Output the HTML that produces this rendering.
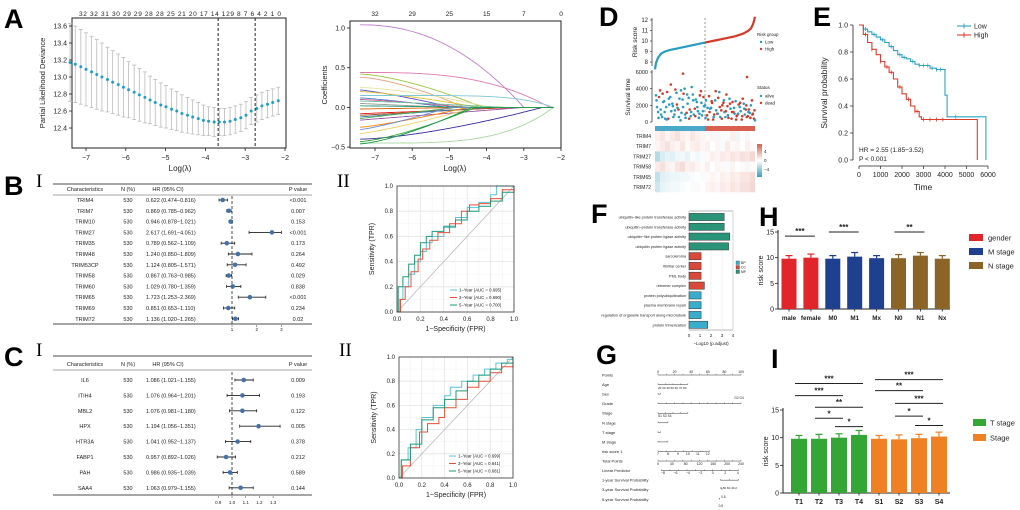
<!DOCTYPE html>
<html><head><meta charset="utf-8">
<style>
html,body{margin:0;padding:0;background:#fff;}
svg{display:block;font-family:"Liberation Sans",Arial,sans-serif;}
.lt{font-family:"Liberation Sans",sans-serif;font-weight:bold;font-size:27px;}
.rm{font-family:"Liberation Serif",serif;font-size:19px;}
</style></head>
<body>
<svg id="fig" width="1020" height="510" viewBox="0 0 1020 510" xmlns="http://www.w3.org/2000/svg">
<rect x="0" y="0" width="1020" height="510" fill="#fff"/>
<text class="lt" x="4" y="28">A</text>
<text class="lt" x="4" y="195">B</text>
<text class="lt" x="4" y="366">C</text>
<text class="lt" x="599" y="26">D</text>
<text class="lt" x="813" y="26">E</text>
<text class="lt" x="591" y="223">F</text>
<text class="lt" x="596" y="364">G</text>
<text class="lt" x="759" y="226">H</text>
<text class="lt" x="771" y="368">I</text>
<text class="rm" x="36" y="187">I</text>
<text class="rm" x="337" y="187">II</text>
<text class="rm" x="36" y="356">I</text>
<text class="rm" x="339" y="356">II</text>
</svg>
<script>
// ---------- DATA ----------
const cvLambda=[-7.40,-7.27,-7.13,-7.00,-6.86,-6.73,-6.60,-6.46,-6.33,-6.19,-6.06,-5.93,-5.79,-5.66,-5.52,-5.39,-5.26,-5.12,-4.99,-4.85,-4.72,-4.59,-4.45,-4.32,-4.18,-4.05,-3.92,-3.78,-3.65,-3.52,-3.38,-3.25,-3.11,-2.98,-2.85,-2.71,-2.58,-2.44,-2.31,-2.17];
const cvMean=[13.17,13.15,13.12,13.09,13.06,13.03,13.00,12.97,12.94,12.91,12.88,12.85,12.82,12.79,12.76,12.73,12.70,12.67,12.65,12.62,12.60,12.57,12.55,12.53,12.51,12.49,12.48,12.47,12.47,12.47,12.48,12.50,12.52,12.55,12.60,12.63,12.66,12.68,12.70,12.72];
const cvSd=[0.46,0.45,0.44,0.43,0.42,0.41,0.40,0.38,0.37,0.36,0.35,0.33,0.32,0.31,0.30,0.28,0.27,0.26,0.25,0.24,0.23,0.22,0.21,0.20,0.19,0.18,0.17,0.17,0.16,0.16,0.16,0.16,0.16,0.16,0.16,0.16,0.16,0.16,0.16,0.16];
const cvLines=[-3.68,-2.75];
const cvTopLabels="32 32 31 30 29 29 28 28 25 21 20 17 14 129 8 7 6 4 2 1 0";
const coefStart=[1.04,0.44,0.42,0.38,0.25,0.22,0.20,0.15,0.12,0.10,0.08,0.05,0.02,-0.02,-0.08,-0.10,-0.12,-0.14,-0.16,-0.25,-0.28,-0.33,-0.40,-0.43,-0.45,-0.46];
const coefZero=[-3.0,-2.3,-4.1,-4.6,-3.9,-4.9,-4.2,-2.2,-5.0,-4.5,-3.5,-5.0,-4.0,-4.5,-3.2,-3.5,-4.0,-4.8,-3.0,-4.5,-5.0,-4.3,-2.5,-4.3,-2.2,-4.4];
const coefShape=[2.2,3,1.5,1.5,1.5,1.2,1.3,6,1.2,1.2,1.2,1,1,1,1,1,1,1,1,1.2,1.2,1.2,1.5,1.4,4,1.4];
const coefColor=['#c27bcc','#e07bb0','#9bc53d','#e8a07a','#e8e0a0','#5a4fcf','#e2c32a','#7fc8d8','#4a7fd0','#d65a8a','#66c2a5','#999999','#1b9e77','#d95f02','#e41a1c','#a65628','#377eb8','#4daf4a','#984ea3','#ff7f00','#6a8fd0','#f0d060','#3b2a9a','#2ca02c','#a8d8a0','#1a9850'];
const coefTop=[['32',-7],['29',-6],['25',-5],['15',-4],['7',-3],['0',-2]];

const fbNames=['TRIM4','TRIM7','TRIM10','TRIM27','TRIM35','TRIM48','TRIM53CP','TRIM58','TRIM60','TRIM65','TRIM69','TRIM72'];
const fbHR=[0.622,0.869,0.946,2.617,0.789,1.240,1.124,0.867,1.029,1.723,0.851,1.136];
const fbLo=[0.474,0.785,0.878,1.691,0.562,0.850,0.805,0.763,0.780,1.253,0.653,1.020];
const fbHi=[0.816,0.962,1.021,4.051,1.109,1.809,1.571,0.985,1.359,2.369,1.110,1.265];
const fbP=['<0.001','0.007','0.153','<0.001','0.173','0.264','0.492','0.029','0.838','<0.001','0.234','0.02'];
const fbTicks=[1,2,3];
const fcNames=['IL6','ITIH4','MBL2','HPX','HTR3A','FABP1','PAH','SAA4'];
const fcHR=[1.086,1.076,1.076,1.194,1.041,0.957,0.986,1.063];
const fcLo=[1.021,0.964,0.981,1.056,0.952,0.892,0.935,0.979];
const fcHi=[1.155,1.201,1.180,1.351,1.137,1.026,1.039,1.155];
const fcP=['0.009','0.193','0.122','0.005','0.378','0.212','0.589','0.144'];
const fcTicks=[0.9,1.0,1.1,1.2,1.3];

const rocB1x=[0,0.02,0.05,0.1,0.15,0.2,0.25,0.3,0.4,0.5,0.6,0.7,0.8,0.85,1], rocB1y=[0,0.1,0.2,0.3,0.4,0.48,0.55,0.6,0.67,0.75,0.83,0.87,0.93,1,1];
const rocB3x=[0,0.03,0.07,0.12,0.18,0.22,0.28,0.35,0.45,0.55,0.62,0.7,0.8,0.9,1], rocB3y=[0,0.1,0.2,0.32,0.42,0.5,0.57,0.63,0.7,0.8,0.85,0.86,0.9,0.97,1];
const rocB5x=[0,0.01,0.05,0.1,0.15,0.2,0.25,0.3,0.4,0.5,0.6,0.7,0.8,0.9,1], rocB5y=[0,0.2,0.28,0.38,0.45,0.55,0.6,0.64,0.68,0.73,0.8,0.84,0.88,0.95,1];
const rocC1x=[0,0.02,0.08,0.15,0.2,0.3,0.4,0.45,0.55,0.65,0.75,0.85,0.95,1], rocC1y=[0,0.15,0.25,0.4,0.5,0.6,0.68,0.75,0.8,0.85,0.9,0.95,0.98,1];
const rocC3x=[0,0.03,0.1,0.18,0.25,0.35,0.4,0.5,0.6,0.7,0.8,0.9,1], rocC3y=[0,0.1,0.25,0.38,0.45,0.5,0.58,0.65,0.75,0.8,0.87,0.92,1];
const rocC5x=[0,0.02,0.1,0.2,0.3,0.4,0.5,0.6,0.7,0.8,0.9,1], rocC5y=[0,0.15,0.28,0.48,0.58,0.65,0.72,0.8,0.85,0.9,0.95,1];
const rocBLegend=['1−Year (AUC = 0.695)','3−Year (AUC = 0.690)','5−Year (AUC = 0.700)'];
const rocCLegend=['1−Year (AUC = 0.699)','3−Year (AUC = 0.641)','5−Year (AUC = 0.681)'];
const rocTicks=[0,0.2,0.4,0.6,0.8,1.0];

const riskRank=[0,0.01,0.03,0.06,0.1,0.15,0.2,0.3,0.4,0.5,0.6,0.7,0.8,0.88,0.93,0.96,0.98,0.99,1];
const riskVal=[7.3,7.9,8.4,8.8,9.0,9.15,9.25,9.45,9.65,9.85,10.05,10.25,10.45,10.7,10.95,11.2,11.6,11.9,12.3];
const riskTicks=[8,9,10,11,12];
const survTime1=[3200,1200,3800,600,2500,1800,400,3000,2200,900,3500,1500,200,2700,4000,1100,2900,700,3300,1600,2400,500,3700,1300,2000,800,3100,1700,300,2600,1000,3600,1400,2300,600,1900,2800,400,1200,2500,900,1800,300,2200,1500,700,1100,2600,400];
const survTime2=[1800,3000,900,2400,400,3600,2100,1300,600,3900,1700,2800,1100,3400,500,2200,1500,4200,900,2700,1300,3200,800,1900,2600,300,1600,2300,900,1400,2900,600,2000,1200,3300,500,1600,2400,1000,700,2100,1300,2800,900,600,1500,2000,1000,200];
const survTime3=[2600,500,1500,3400,1200,300,2800,4500,1900,1400,2100,600,3800,1800,900,3300,400,1200,2600,700,1800,1000,2300,3000,500,1700,1200,2500,600,3700,1000,1800,400,2600,1300,800,2200,1200,1700,300,1000,2300,700,1600,2000,1200,500,900,1400];
const survDead1="0010001000010001000100100110101011010110101011011";
const survDead2="0100010001000100100001000101101010110101101011010";
const survDead3="0001000100100000100100010011010110101101011010111";
const survOutRank=[0.28,0.92], survOutTime=[5800,5400];
const survTicks=[0,2000,4000,6000];
const heatGenes=['TRIM4','TRIM7','TRIM27','TRIM58','TRIM65','TRIM72'];
const heatVals=[
[0.3,0.5,0.2,0.4,0.6,0.3,0.2,0.5,0.3,0.2,-0.1,0.2,-0.2,0.1,-0.1,0.3,-0.3,0.1,-0.2,0.0],
[0.2,0.4,0.6,0.3,0.2,0.5,0.1,0.3,0.4,0.2,0.3,0.0,0.2,-0.1,0.4,0.1,0.2,0.0,0.3,0.1],
[-1.2,-0.6,-0.4,-0.5,-0.3,-0.2,-0.4,-0.1,-0.2,-0.1,0.1,0.3,0.2,0.4,0.3,0.5,0.4,0.6,0.5,0.8],
[0.4,0.6,0.3,0.2,0.5,0.7,0.3,0.4,0.2,0.1,0.3,0.0,0.2,0.1,-0.1,0.2,0.0,0.1,-0.2,0.1],
[-1.0,-0.5,-0.4,-0.3,-0.3,-0.2,-0.2,-0.1,0.0,-0.1,0.1,0.2,0.1,0.3,0.2,0.4,0.3,0.5,0.5,0.7],
[-0.8,-0.4,-0.3,-0.2,-0.2,-0.1,0.0,-0.1,0.1,0.0,0.2,0.3,0.2,0.4,0.3,0.5,0.4,0.6,0.6,0.8]];

const kmLowT=[0,200,400,600,800,1000,1200,1400,1600,1800,2000,2200,2400,2600,2800,3000,3300,3600,4000,4100,5900];
const kmLowS=[1,0.97,0.95,0.93,0.91,0.89,0.87,0.84,0.81,0.78,0.76,0.75,0.73,0.71,0.70,0.70,0.68,0.67,0.48,0.32,0];
const kmHighT=[0,200,400,600,800,1000,1200,1400,1600,1800,2000,2200,2400,2600,2800,2900,5500];
const kmHighS=[1,0.93,0.87,0.82,0.78,0.73,0.69,0.65,0.60,0.54,0.49,0.45,0.40,0.36,0.32,0.30,0];
const kmLowCens=[300,700,1100,1500,1900,2100,2500,2800,3000,3200,3400,3600,3800,4500];
const kmHighCens=[300,600,1000,1300,1500,1900,2300,2600,2700,3000,3300,3600,3900];
const kmXTicks=[0,1000,2000,3000,4000,5000,6000];
const kmYTicks=[0,0.2,0.4,0.6,0.8,1.0];

const goTerms=['ubiquitin−like protein transferase activity','ubiquitin−protein transferase activity','ubiquitin−like protein ligase activity','ubiquitin protein ligase activity','sarcolemma','fibrillar center','PML body','retromer complex','protein polyubiquitination','plasma membrane repair','regulation of organelle transport along microtubule','protein trimerization'];
const goVals=[3.2,3.2,3.7,3.6,1.1,1.1,1.1,1.4,1.1,1.1,1.1,1.7];
const goCat=['MF','MF','MF','MF','CC','CC','CC','CC','BP','BP','BP','BP'];
const goTicks=[0,1,2,3,4];

const hCats=['male','female','M0','M1','Mx','N0','N1','Nx'];
const hVals=[9.8,10.0,9.8,10.2,9.9,9.9,10.4,9.8];
const hErr=[0.6,0.7,0.6,0.8,0.5,0.7,0.6,0.6];
const hGroup=[0,0,1,1,1,2,2,2];
const hSig=[[0,1,14.2,'***'],[2,3,15.0,'***'],[5,6,15.0,'**']];
const iCats=['T1','T2','T3','T4','S1','S2','S3','S4'];
const iVals=[9.8,9.8,10.0,10.5,9.8,9.7,9.9,10.2];
const iErr=[0.6,0.8,0.7,0.8,0.6,0.8,0.7,0.8];
const iGroup=[0,0,0,0,1,1,1,1];
const iSig=[[0,3,19.8,'***'],[0,2,17.6,'***'],[1,3,15.5,'**'],[1,2,13.5,'*'],[2,3,12.0,'*'],[4,7,20.5,'***'],[4,6,18.5,'**'],[5,7,16.2,'***'],[5,6,13.9,'*'],[6,7,12.2,'*']];
const barTicks=[0,5,10,15];

const nomoLabels=['Points','Age','Sex','Grade','Stage','N stage','T stage','M stage','risk score 1','Total Points','Linear Predictor','1-year Survival Probability','3-year Survival Probability','5-year Survival Probability'];
const nomoStart=[0,0,0,0,0,0,0,0,0,0,4,75,77,74];
const nomoEnd=[100,36,3,100,36,12,3,12,62,100,97,97,77,74];

// ---------- HELPERS ----------
const NS='http://www.w3.org/2000/svg';
const svg=document.getElementById('fig');
function el(tag,a,p){const e=document.createElementNS(NS,tag);for(const k in a)e.setAttribute(k,a[k]);(p||svg).appendChild(e);return e;}
function grp(name){const g=el('g',{});


return g;}
function txt(p,x,y,s,size,name,extra){const t=el('text',Object.assign({x:x,y:y,'font-size':size,fill:'#222'},extra||{}),p);t.textContent=s;


return t;}
function ln(p,x1,y1,x2,y2,stroke,w,name,dash){const l=el('line',{x1:x1,y1:y1,x2:x2,y2:y2,stroke:stroke,'stroke-width':w},p);if(dash)l.setAttribute('stroke-dasharray',dash);


return l;}
function rot(p,x,y,s,size,name){return txt(p,x,y,s,size,name,{transform:`rotate(-90 ${x} ${y})`,'text-anchor':'middle'});}

// ---------- PANEL A LEFT ----------
(function(){
const g=grp('cv-deviance-plot');
const xA=l=>86+(l+7)*39.8, yA=v=>26+(13.6-v)/0.2*17;
el('rect',{x:72,y:18,width:214,height:130,fill:'none',stroke:'#222','stroke-width':1},g);
for(let i=0;i<cvLambda.length;i++){
 const x=xA(cvLambda[i]);
 ln(g,x,yA(cvMean[i]+cvSd[i]),x,yA(cvMean[i]-cvSd[i]),'#bbb',0.8,'error-bar');
 ln(g,x-2,yA(cvMean[i]+cvSd[i]),x+2,yA(cvMean[i]+cvSd[i]),'#bbb',0.8,'error-cap');
 ln(g,x-2,yA(cvMean[i]-cvSd[i]),x+2,yA(cvMean[i]-cvSd[i]),'#bbb',0.8,'error-cap');
}
for(let i=0;i<cvLambda.length;i++){
 const c=el('circle',{cx:xA(cvLambda[i]),cy:yA(cvMean[i]),r:1.5,fill:'#1b9fc9'},g);
 
 
}
cvLines.forEach(l=>ln(g,xA(l),18,xA(l),148,'#222',1,'lambda-cutoff-line','3,2'));
for(let t=-7;t<=-2;t++){ln(g,xA(t),148,xA(t),151,'#222',0.8,'x-tick');txt(g,xA(t),160,String(t).replace('-','−'),7,'x-tick-label',{'text-anchor':'middle'});}
[12.4,12.6,12.8,13.0,13.2,13.4,13.6].forEach(v=>{ln(g,69,yA(v),72,yA(v),'#222',0.8,'y-tick');txt(g,67,yA(v)+2.5,v.toFixed(1),7,'y-tick-label',{'text-anchor':'end'});});
txt(g,180,171,'Log(λ)',8,'x-axis-title',{'text-anchor':'middle'});
rot(g,45,83,'Partial Likelihood Deviance',7.5,'y-axis-title');
txt(g,79,16,cvTopLabels,6.5,'top-count-labels',{textLength:202,lengthAdjust:'spacing'});
})();

// ---------- PANEL A RIGHT ----------
(function(){
const g=grp('coefficient-path-plot');
const xR=l=>375+(l+7)*37.2, yR=v=>28+(1-v)/0.5*39.7;
el('rect',{x:350,y:21,width:211,height:127,fill:'none',stroke:'#222','stroke-width':1},g);
for(let k=0;k<coefStart.length;k++){
 let d='';
 for(let l=-7.4;l<=-2.19;l+=0.05){
  let f=l>=coefZero[k]?0:1-Math.pow((l+7.4)/(coefZero[k]+7.4),coefShape[k]);
  d+=(d?'L':'M')+xR(l).toFixed(1)+','+yR(coefStart[k]*f).toFixed(1);
 }
 const p=el('path',{d:d,fill:'none',stroke:coefColor[k],'stroke-width':0.9},g);
 
 
}
for(let t=-7;t<=-2;t++){ln(g,xR(t),148,xR(t),151,'#222',0.8,'x-tick');txt(g,xR(t),160,String(t).replace('-','−'),7,'x-tick-label',{'text-anchor':'middle'});}
[-0.5,0,0.5,1.0].forEach(v=>{ln(g,347,yR(v),350,yR(v),'#222',0.8,'y-tick');txt(g,345,yR(v)+2.5,v.toFixed(1).replace('-','−'),7,'y-tick-label',{'text-anchor':'end'});});
coefTop.forEach(c=>txt(g,xR(c[1]),16,c[0],6.5,'top-count-label',{'text-anchor':'middle'}));
txt(g,455,171,'Log(λ)',8,'x-axis-title',{'text-anchor':'middle'});
rot(g,327,85,'Coefficients',7.5,'y-axis-title');
})();

// ---------- FORESTS ----------
function forest(name,top,hdrY,rowY0,rowDy,bot,names,hr,lo,hi,pv,xf,ticks,xmax,tickY,dashTop){
 const g=grp(name);
 ln(g,53,top,312,top,'#888',1.6,'table-top-rule');
 ln(g,53,hdrY+5,312,hdrY+5,'#888',0.8,'table-header-rule');
 ln(g,53,bot,312,bot,'#888',1.6,'table-bottom-rule');
 txt(g,85,hdrY+1,'Characteristics',5.5,'header-characteristics',{'text-anchor':'middle'});
 txt(g,128,hdrY+1,'N (%)',5.5,'header-n',{'text-anchor':'middle'});
 txt(g,168,hdrY+1,'HR (95% CI)',5.5,'header-hr',{'text-anchor':'middle'});
 txt(g,298,hdrY+1,'P value',5.5,'header-p',{'text-anchor':'middle'});
 ln(g,xf(1),dashTop,xf(1),bot,'#222',0.8,'reference-line','3,2');
 for(let i=0;i<names.length;i++){
  const y=rowY0+i*rowDy;
  txt(g,85,y+2,names[i],5.5,'row-name',{'text-anchor':'middle'});
  txt(g,128,y+2,'530',5.5,'row-n',{'text-anchor':'middle'});
  txt(g,146,y+2,hr[i].toFixed(3)+' ('+lo[i].toFixed(3)+'−'+hi[i].toFixed(3)+')',5.5,'row-hr-text');
  txt(g,298,y+2,pv[i],5.5,'row-p',{'text-anchor':'middle'});
  const x1=xf(lo[i]),x2=xf(Math.min(hi[i],xmax));
  ln(g,x1,y,x2,y,'#222',0.9,'ci-line');
  ln(g,x1,y-1.5,x1,y+1.5,'#222',0.8,'ci-cap');
  ln(g,x2,y-1.5,x2,y+1.5,'#222',0.8,'ci-cap');
  const c=el('circle',{cx:xf(hr[i]),cy:y,r:2.3,fill:'#4472a8'},g);
  
  
 }
 ticks.forEach(t=>{ln(g,xf(t),bot+1,xf(t),bot+3,'#444',0.5,'x-tick');txt(g,xf(t),tickY,t<1.5&&ticks.length>3?t.toFixed(1):String(t),4.5,'x-tick-label',{'text-anchor':'middle'});});
}
forest('forest-plot-b',184,190,200,10.8,324,fbNames,fbHR,fbLo,fbHi,fbP,h=>232+(h-1)*24.7,fbTicks,3,331,196);
forest('forest-plot-c',356,365,380,15.4,495,fcNames,fcHR,fcLo,fcHi,fcP,h=>232+(h-1)*137,fcTicks,1.4,504,372);

// ---------- ROC ----------
function roc(name,x0,y0,x1,y1,sets,legend){
 const g=grp(name);
 const W=x1-x0,H=y1-y0,xf=v=>x0+v*W,yf=v=>y1-v*H;
 el('rect',{x:x0,y:y0,width:W,height:H,fill:'#fff'},g);
 for(let k=1;k<10;k++){ln(g,xf(k/10),y0,xf(k/10),y1,k%2?'#f2f2f2':'#e4e4e4',k%2?0.5:0.8,'grid-v');ln(g,x0,yf(k/10),x1,yf(k/10),k%2?'#f2f2f2':'#e4e4e4',k%2?0.5:0.8,'grid-h');}
 ln(g,x0,y1,x1,y0,'#bbb',0.8,'diagonal');
 const cols=['#5bc4d6','#e8503a','#1f9a7a'];
 sets.forEach((s,j)=>{let d='M'+xf(s[0][0])+','+yf(s[1][0]);for(let i=1;i<s[0].length;i++){d+='L'+xf(s[0][i]).toFixed(1)+','+yf(s[1][i-1]).toFixed(1)+'L'+xf(s[0][i]).toFixed(1)+','+yf(s[1][i]).toFixed(1);}
  const p=el('path',{d:d,fill:'none',stroke:cols[j],'stroke-width':1},g);
  
  
  ln(g,x1-64,y1-22+j*7.5,x1-57,y1-22+j*7.5,cols[j],1,'legend-swatch');
  txt(g,x1-55,y1-20.5+j*7.5,legend[j],4.3,'legend-label');
 });
 el('rect',{x:x0,y:y0,width:W,height:H,fill:'none',stroke:'#333','stroke-width':0.8},g);
 rocTicks.forEach(t=>{txt(g,xf(t),y1+9,t.toFixed(1),6,'x-tick-label',{'text-anchor':'middle'});txt(g,x0-4,yf(t)+2,t.toFixed(1),6,'y-tick-label',{'text-anchor':'end'});});
 txt(g,(x0+x1)/2,y1+19,'1−Specificity (FPR)',7,'x-axis-title',{'text-anchor':'middle'});
 rot(g,x0-23,(y0+y1)/2,'Sensitivity (TPR)',7,'y-axis-title');
}
roc('roc-b',397,186,514,312,[[rocB1x,rocB1y],[rocB3x,rocB3y],[rocB5x,rocB5y]],rocBLegend);
roc('roc-c',399,357,513,478,[[rocC1x,rocC1y],[rocC3x,rocC3y],[rocC5x,rocC5y]],rocCLegend);

// ---------- PANEL D ----------
(function(){
const g=grp('risk-plot');
const xD=r=>655+r*100, yD=v=>20+(12-v)/4*42, yS=t=>122-t/6000*50;
ln(g,652,18,652,66,'#222',0.7,'risk-y-axis');
riskTicks.forEach(v=>{ln(g,650,yD(v),652,yD(v),'#222',0.6,'y-tick');txt(g,648,yD(v)+2,String(v),6,'y-tick-label',{'text-anchor':'end'});});
rot(g,637,42,'Risk score',6.5,'risk-y-title');
let dl='',dh='';
for(let i=0;i<riskRank.length;i++){const pt=xD(riskRank[i]).toFixed(1)+','+yD(riskVal[i]).toFixed(1);if(riskRank[i]<=0.5)dl+=(dl?'L':'M')+pt;if(riskRank[i]>=0.5)dh+=(dh?'L':'M')+pt;}
const p1=el('path',{d:dl,fill:'none',stroke:'#2a9cc2','stroke-width':2.2},g);


const p2=el('path',{d:dh,fill:'none',stroke:'#d43a2a','stroke-width':2.2},g);


ln(g,xD(0.5),18,xD(0.5),122,'#555',0.6,'cutoff-line','2,2');
txt(g,757,36,'Risk group',4.5,'legend-title');
[['Low','#2a9cc2'],['High','#d43a2a']].forEach((e,j)=>{const c=el('circle',{cx:761,cy:42+j*7,r:1.2,fill:e[1]},g);
 
 
 txt(g,765,43.5+j*7,e[0],4.5,'legend-label');});
ln(g,652,70,652,122,'#222',0.7,'surv-y-axis');
survTicks.forEach(v=>{ln(g,650,yS(v),652,yS(v),'#222',0.6,'y-tick');txt(g,648,yS(v)+2,String(v),5.5,'y-tick-label',{'text-anchor':'end'});});
rot(g,630,97,'Survival time',6.5,'surv-y-title');
[[survTime1,survDead1,0],[survTime2,survDead2,0.01],[survTime3,survDead3,0.005]].forEach(s=>{
 for(let i=0;i<s[0].length;i++){const r=(i+0.5)/49+s[2];const c=el('circle',{cx:xD(Math.min(r,1)),cy:yS(s[0][i]),r:1.3,fill:s[1][i]==='1'?'#d43a2a':'#2a9cc2'},g);
 
 }
});
for(let i=0;i<survOutRank.length;i++){const c=el('circle',{cx:xD(survOutRank[i]),cy:yS(survOutTime[i]),r:1.3,fill:'#d43a2a'},g);
 
 }
txt(g,757,89,'Status',4.5,'legend-title');
[['alive','#2a9cc2'],['dead','#d43a2a']].forEach((e,j)=>{const c=el('circle',{cx:761,cy:96+j*7,r:1.2,fill:e[1]},g);
 
 
 txt(g,765,97.5+j*7,e[0],4.5,'legend-label');});
// heatmap
const ga=el('rect',{x:655,y:126,width:50,height:5,fill:'#4aa8c8'},g);


const gb=el('rect',{x:705,y:126,width:50,height:5,fill:'#d9604e'},g);


function col(v){const t=Math.min(1,Math.abs(v)/3.2);const c=v>=0?[214,96,77]:[58,159,192];return `rgb(${Math.round(255+(c[0]-255)*t)},${Math.round(255+(c[1]-255)*t)},${Math.round(255+(c[2]-255)*t)})`;}
for(let r=0;r<heatGenes.length;r++){
 for(let c=0;c<heatVals[r].length;c++){const cell=el('rect',{x:655+c*5,y:131+r*10.2,width:5.1,height:10.3,fill:col(heatVals[r][c])},g);
  
  }
 txt(g,651,138+r*10.2,heatGenes[r],5,'heatmap-gene-label',{'text-anchor':'end'});
}
const defs=el('defs',{},g);const lg=el('linearGradient',{id:'hg',x1:0,y1:0,x2:0,y2:1},defs);
el('stop',{offset:0,'stop-color':'#d6604d'},lg);el('stop',{offset:0.5,'stop-color':'#fff'},lg);el('stop',{offset:1,'stop-color':'#3a9fc0'},lg);
const cb=el('rect',{x:757,y:144,width:5,height:33,fill:'url(#hg)'},g);


txt(g,764,153,'4',4.5,'colorbar-label');txt(g,764,162,'0',4.5,'colorbar-label');txt(g,764,171,'−4',4.5,'colorbar-label');
})();

// ---------- PANEL E ----------
(function(){
const g=grp('km-plot');
const xE=t=>859+t/6000*129, yE=s=>160-s*135;
ln(g,853,25,853,160,'#222',0.8,'y-axis');ln(g,859,166,988,166,'#222',0.8,'x-axis');
kmYTicks.forEach(v=>{ln(g,850,yE(v),853,yE(v),'#222',0.7,'y-tick');txt(g,848,yE(v)+2.5,v.toFixed(1),7,'y-tick-label',{'text-anchor':'end'});});
kmXTicks.forEach(v=>{ln(g,xE(v),166,xE(v),169,'#222',0.7,'x-tick');txt(g,xE(v),177,String(v),7,'x-tick-label',{'text-anchor':'middle'});});
txt(g,923,190,'Time',8.5,'x-axis-title',{'text-anchor':'middle'});
rot(g,827,93,'Survival probability',8.5,'y-axis-title');
function step(T,S,color,name,cens){let d='M'+xE(T[0])+','+yE(S[0]);for(let i=1;i<T.length;i++)d+='L'+xE(T[i]).toFixed(1)+','+yE(S[i-1]).toFixed(1)+'L'+xE(T[i]).toFixed(1)+','+yE(S[i]).toFixed(1);
 const p=el('path',{d:d,fill:'none',stroke:color,'stroke-width':1.1},g);
 
 
 cens.forEach(t=>{let s=S[0];for(let i=0;i<T.length;i++)if(T[i]<=t)s=S[i];ln(g,xE(t),yE(s)-2,xE(t),yE(s)+2,color,0.8,'censor-mark');});}
step(kmLowT,kmLowS,'#2ba3c4','km-curve-low',kmLowCens);
step(kmHighT,kmHighS,'#dd3d2e','km-curve-high',kmHighCens);
[['Low','#2ba3c4'],['High','#dd3d2e']].forEach((e,j)=>{ln(g,957,26+j*9,971,26+j*9,e[1],1.1,'legend-line');ln(g,964,23.5+j*9,964,28.5+j*9,e[1],1,'legend-cross');txt(g,974,28.5+j*9,e[0],7,'legend-label');});
txt(g,859,152,'HR = 2.55 (1.85−3.52)',6.5,'hr-annotation');
txt(g,859,161,'P < 0.001',6.5,'p-annotation');
})();

// ---------- PANEL F ----------
(function(){
const g=grp('go-bar-chart');
const xF=v=>689+v*11, y0=217, dy=9.8;
el('rect',{x:689,y:211,width:44,height:119,fill:'#fff',stroke:'#888','stroke-width':0.6},g);
goTicks.forEach(t=>{ln(g,xF(t),211,xF(t),330,'#ebebeb',0.6,'grid-v');txt(g,xF(t),337,String(t),4.5,'x-tick-label',{'text-anchor':'middle'});});
const colr={MF:'#2a9478',CC:'#d9493a',BP:'#3aaccc'};
for(let i=0;i<goTerms.length;i++){const y=y0+i*dy;
 const b=el('rect',{x:689,y:y-3.6,width:goVals[i]*11,height:7.2,fill:colr[goCat[i]],stroke:'#333','stroke-width':0.5},g);
 
 
 txt(g,686,y+1.5,goTerms[i],3.8,'go-term-label',{'text-anchor':'end'});}
['BP','CC','MF'].forEach((k,j)=>{const r=el('rect',{x:736,y:261+j*4.5,width:3.5,height:3.5,fill:colr[k],stroke:'#333','stroke-width':0.3},g);
 
 
 txt(g,741,264+j*4.5,k,3.5,'legend-label');});
txt(g,711,345,'−Log10 (p.adjust)',4.5,'x-axis-title',{'text-anchor':'middle'});
})();

// ---------- PANEL G ----------
(function(){
const g=grp('nomogram');
const xN=v=>658+v*0.83;
for(let i=0;i<nomoLabels.length;i++){const y=375+i*9.56;
 txt(g,602,y+1.5,nomoLabels[i],4,'nomogram-row-label');
 ln(g,xN(nomoStart[i]),y,xN(nomoEnd[i]),y,'#333',0.5,'nomogram-scale');
 const n=Math.max(1,Math.round((nomoEnd[i]-nomoStart[i])/10));
 for(let k=0;k<=n;k++){const x=xN(nomoStart[i]+(nomoEnd[i]-nomoStart[i])*k/n);ln(g,x,y-1.2,x,y,'#333',0.4,'nomogram-tick');}
}
[0,20,40,60,80,100].forEach(v=>txt(g,xN(v),373,String(v),3.5,'points-label',{'text-anchor':'middle'}));
[0,40,80,120,160,200,240].forEach((v,k)=>txt(g,xN(k*100/6),465,String(v),3.5,'total-points-label',{'text-anchor':'middle'}));
['−8','−6','−4','−2','0','2','4'].forEach((v,k)=>txt(g,xN(6+k*15),474,v,3.5,'lp-label',{'text-anchor':'middle'}));
[7,8,9,10,11,12].forEach((v,k)=>txt(g,xN(k*12),455,String(v),3.5,'risk-score-label',{'text-anchor':'middle'}));
txt(g,xN(0),389,'20 30 40 50 60 70 80',3,'age-labels');
txt(g,xN(92),399,'G2 G4',3.2,'grade-labels');
txt(g,xN(0),417,'S1  S3      S4',3.2,'stage-labels');
txt(g,xN(75),489,'0.80.60.40.2',3,'1yr-labels');
txt(g,xN(76),498,'0.5',3.2,'3yr-label');
txt(g,xN(73),507,'0.5',3.2,'5yr-label');
})();

// ---------- BAR CHARTS H & I ----------
function bars(name,x0,x1,ybase,ppu,cx0,dx,bw,cats,vals,errs,grpIdx,colors,sigs,labelY,lfs){
 const g=grp(name);
 const yf=v=>ybase-v*ppu, xc=i=>cx0+i*dx;
 ln(g,x0,yf(15)-2,x0,ybase,'#222',1,'y-axis');ln(g,x0,ybase,x1,ybase,'#222',1,'x-axis');
 barTicks.forEach(v=>{ln(g,x0-3,yf(v),x0,yf(v),'#222',0.8,'y-tick');txt(g,x0-4,yf(v)+2.5,String(v),7,'y-tick-label',{'text-anchor':'end'});});
 rot(g,x0-15,(yf(15)+ybase)/2,'risk score',7,'y-axis-title');
 for(let i=0;i<cats.length;i++){const c=colors[grpIdx[i]];
  ln(g,xc(i),yf(vals[i]),xc(i),yf(vals[i]+errs[i]),c,1.2,'error-bar');
  ln(g,xc(i)-3.5,yf(vals[i]+errs[i]),xc(i)+3.5,yf(vals[i]+errs[i]),c,1.2,'error-cap');
  const b=el('rect',{x:xc(i)-bw/2,y:yf(vals[i]),width:bw,height:vals[i]*ppu,fill:c},g);
  
  
  ln(g,xc(i),ybase,xc(i),ybase+2.5,'#222',0.8,'x-tick');
  txt(g,xc(i),labelY,cats[i],lfs,'x-tick-label',{'text-anchor':'middle','font-weight':'bold'});}
 sigs.forEach(s=>{const y=yf(s[2]);ln(g,xc(s[0])-4,y,xc(s[1])+4,y,'#222',1,'significance-line');txt(g,(xc(s[0])+xc(s[1]))/2,y-2,s[3],8,'significance-stars',{'text-anchor':'middle','font-weight':'bold'});});
}
bars('risk-bar-chart-h',778,950,309,77/15,789,21.9,15,hCats,hVals,hErr,hGroup,['#e0262b','#1f3f8f','#8c6428'],hSig,320,6.3);
bars('risk-bar-chart-i',783,950,493,83/15,799,20.0,16,iCats,iVals,iErr,iGroup,['#33a636','#ef8023'],iSig,504,7);
(function(){const g=grp('legend-h');
[['gender','#e0262b'],['M stage','#1f3f8f'],['N stage','#8c6428']].forEach((e,j)=>{const r=el('rect',{x:969,y:234+j*14,width:14,height:7,fill:e[1]},g);
 
 
 txt(g,988,240.5+j*14,e[0],7.5,'legend-label');});
const g2=grp('legend-i');
[['T stage','#33a636'],['Stage','#ef8023']].forEach((e,j)=>{const r=el('rect',{x:973,y:419+j*15,width:13,height:7,fill:e[1]},g2);
 
 
 txt(g2,990,425.5+j*15,e[0],7.5,'legend-label');});
})();
</script>
</body></html>
